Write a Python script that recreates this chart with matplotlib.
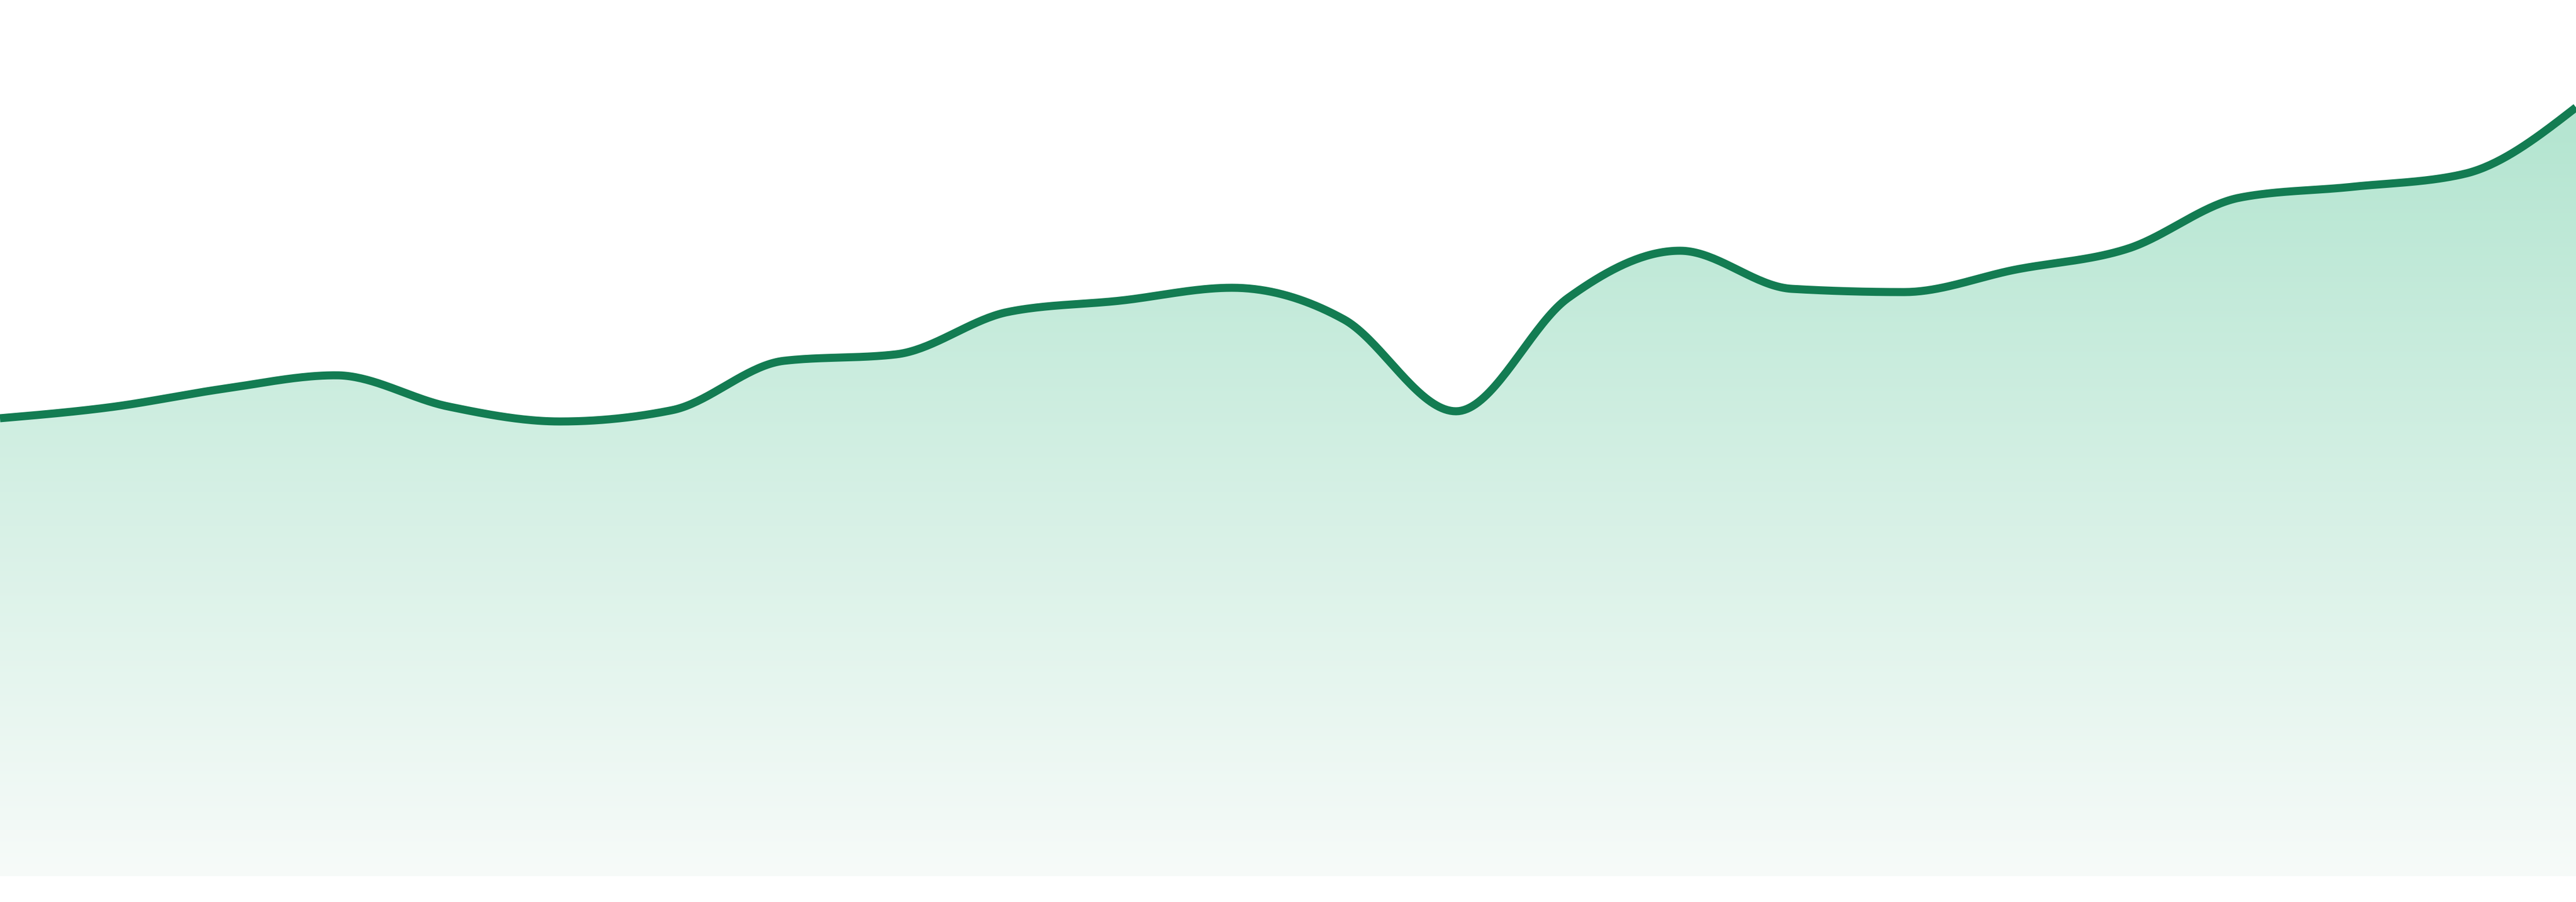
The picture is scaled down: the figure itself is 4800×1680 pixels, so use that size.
import numpy as np
import matplotlib
matplotlib.use("Agg")
import matplotlib.pyplot as plt
from matplotlib.colors import to_rgb

# ---- data ----
points = list(range(24))
values = [85.3, 87.4, 90.8, 93.3, 87.5, 84.7, 86.8, 96.0, 97.2, 105.1, 107.2, 109.6,
          103.7, 86.6, 107.7, 116.5, 109.4, 108.8, 113.0, 116.9, 126.4, 128.4, 130.8, 143.2]

line_color = "#137c52"
grad_top = "#b3e5d0"
grad_bottom = "#f7fbf9"


def monotone_x(x, y, n=40):
    x = np.asarray(x, float)
    y = np.asarray(y, float)
    h = np.diff(x)
    s = np.diff(y) / h
    m = np.zeros_like(y)
    for i in range(1, len(y) - 1):
        h0, h1 = h[i - 1], h[i]
        s0, s1 = s[i - 1], s[i]
        p = (s0 * h1 + s1 * h0) / (h0 + h1)
        m[i] = (np.sign(s0) + np.sign(s1)) * min(abs(s0), abs(s1), 0.5 * abs(p))
    m[0] = (3 * s[0] - m[1]) / 2 if len(y) > 2 else s[0]
    m[-1] = (3 * s[-1] - m[-2]) / 2 if len(y) > 2 else s[-1]
    xs, ys = [], []
    for i in range(len(x) - 1):
        t = np.linspace(0, 1, n, endpoint=(i == len(x) - 2))
        hh = h[i]
        h00 = 2 * t**3 - 3 * t**2 + 1
        h10 = t**3 - 2 * t**2 + t
        h01 = -2 * t**3 + 3 * t**2
        h11 = t**3 - t**2
        xs.append(x[i] + t * hh)
        ys.append(h00 * y[i] + h10 * hh * m[i] + h01 * y[i + 1] + h11 * hh * m[i + 1])
    return np.concatenate(xs), np.concatenate(ys)


fig = plt.figure(figsize=(16, 5.6), dpi=300)
ax = fig.add_axes([0, 0, 1, 1])
ax.set_xlim(points[0], points[-1])
ax.set_ylim(-4.8, 163.2)
ax.axis("off")

sx, sy = monotone_x(points, values)

# gradient fill
poly = ax.fill_between(sx, sy, 0, color="none", lw=0)
ymax = max(values)
rows = 600
vals = np.linspace(163.2, 0, rows)
f = np.clip((ymax - vals) / ymax, 0, 1)[:, None]
c0 = np.array(to_rgb(grad_top))
c1 = np.array(to_rgb(grad_bottom))
img = (c0 + f * (c1 - c0))[:, None, :]
img = np.repeat(img, 2, axis=1)
im = ax.imshow(img, extent=(points[0], points[-1], 0, 163.2), aspect="auto",
               interpolation="bilinear", zorder=1)
path = poly.get_paths()[0]
im.set_clip_path(path, transform=ax.transData)

ax.plot(sx, sy, color=line_color, lw=3.6, solid_capstyle="butt",
        solid_joinstyle="round", zorder=3)

fig.savefig("out.png", dpi=300, facecolor="white")
